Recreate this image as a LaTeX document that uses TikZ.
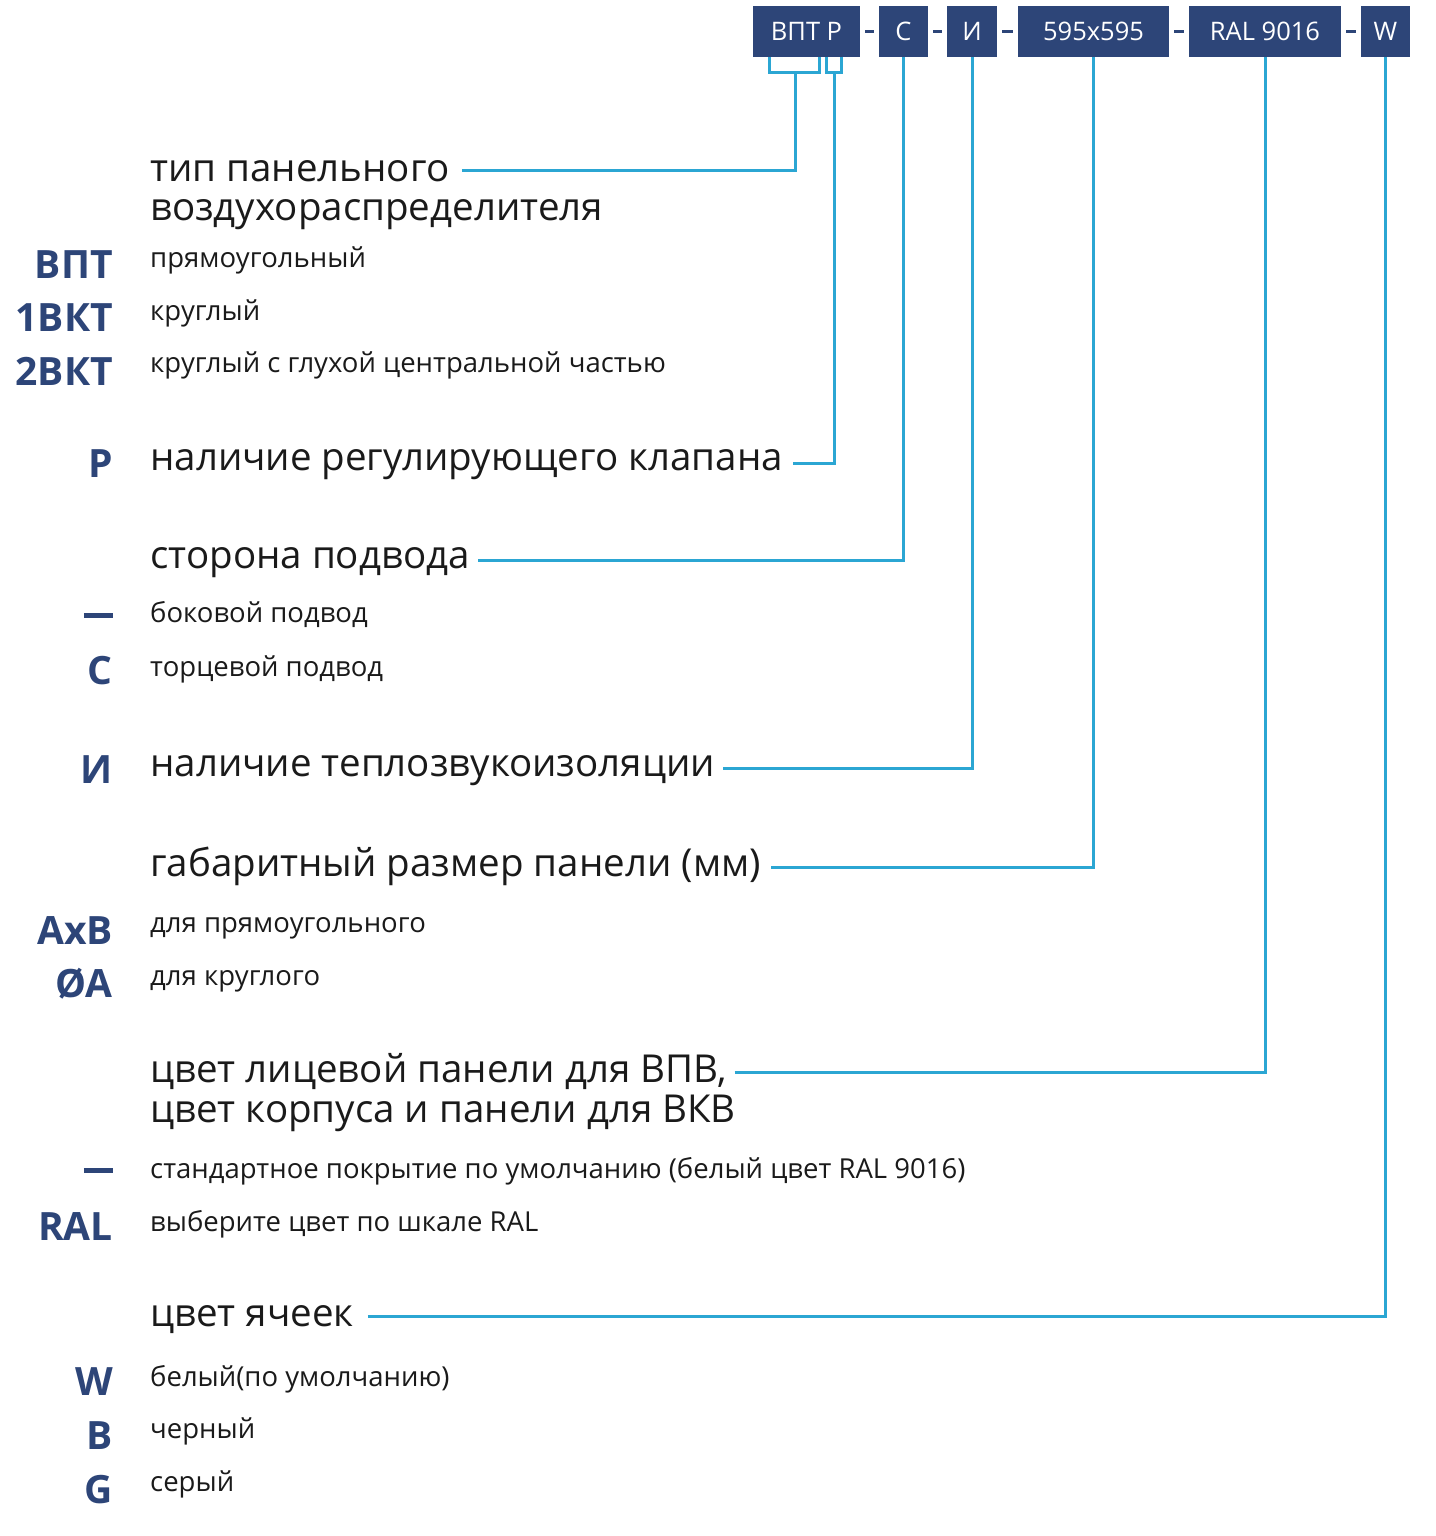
\documentclass[tikz,border=0pt]{standalone}
\usepackage{fontspec}
\setmainfont{Open Sans}
\usetikzlibrary{positioning}
\definecolor{navy}{HTML}{2D4578}
\definecolor{leadblue}{HTML}{2BA6D3}
\definecolor{ink}{HTML}{1A1A1A}
\newcommand{\codebar}{\rule[10.5pt]{29pt}{5pt}}

\begin{document}
\begin{tikzpicture}[x=1pt,y=-1pt,
  codebox/.style={fill=navy,text=white,minimum height=51pt,inner sep=0pt,
    font=\fontsize{25.5}{30}\selectfont},
  sep/.style={navy,line width=3pt},
  lead/.style={leadblue,line width=3pt},
  head/.style={anchor=base west,inner sep=0pt,text=ink,font=\fontsize{38.5}{46}\selectfont},
  item/.style={anchor=base west,inner sep=0pt,text=ink,font=\fontsize{27.5}{32}\selectfont},
  code/.style={anchor=base east,inner sep=0pt,text=navy,font=\bfseries\fontsize{39}{46}\selectfont}]
  \useasboundingbox (0,0) rectangle (1435,1536);

  % designation boxes
  \node[codebox,minimum width=107pt] (bVPT) at (806.5,31.5) {ВПТ Р};
  \node[codebox,minimum width=49pt] (bC) at (903.5,31.5) {С};
  \node[codebox,minimum width=50pt] (bI) at (972,31.5) {И};
  \node[codebox,minimum width=151pt] (bSize) at (1093.5,31.5) {595x595};
  \node[codebox,minimum width=152pt] (bRAL) at (1265,31.5) {RAL 9016};
  \node[codebox,minimum width=49pt] (bW) at (1385.5,31.5) {W};
  \foreach \a/\b in {bVPT/bC,bC/bI,bI/bSize,bSize/bRAL,bRAL/bW}
    \draw[sep] ([xshift=5pt]\a.east) -- ([xshift=-5pt]\b.west);

  % brackets under ВПТ and Р
  \draw[lead] (769,57) -- (769,73) -- (819,73) -- (819,57);
  \draw[lead] (826,57) -- (826,73) -- (841,73) -- (841,57);
  \coordinate (kVPT) at (795,73);
  \coordinate (kP) at (834,73);

  % type
  \node[head] (hTipA) at (150,181) {тип панельного};
  \node[head] (hTipB) at (150,220) {воздухораспределителя};
  \node[code] (cVPT) at (113,278) {ВПТ};
  \node[item] (dVPT) at (150,267) {прямоугольный};
  \node[code] (c1VKT) at (113,331) {1ВКТ};
  \node[item] (d1VKT) at (150,320) {круглый};
  \node[code] (c2VKT) at (113,385) {2ВКТ};
  \node[item] (d2VKT) at (150,372) {круглый с глухой центральной частью};

  % valve
  \node[code] (cP) at (113,477) {Р};
  \node[head] (hValve) at (150,470) {наличие регулирующего клапана};

  % connection side
  \node[head] (hSide) at (150,568) {сторона подвода};
  \node[code] (cDash1) at (113,628) {\codebar};
  \node[item] (dSide) at (150,622) {боковой подвод};
  \node[code] (cC) at (113,684) {С};
  \node[item] (dEnd) at (150,676) {торцевой подвод};

  % insulation
  \node[code] (cI) at (113,783) {И};
  \node[head] (hIns) at (150,776) {наличие теплозвукоизоляции};

  % size
  \node[head] (hSize) at (150,876) {габаритный размер панели (мм)};
  \node[code] (cAxB) at (113,944) {AxB};
  \node[item] (dAxB) at (150,932) {для прямоугольного};
  \node[code] (cOA) at (113,997) {ØA};
  \node[item] (dOA) at (150,985) {для круглого};

  % colour
  \node[head] (hColA) at (150,1082) {цвет лицевой панели для ВПВ,};
  \node[head] (hColB) at (150,1122) {цвет корпуса и панели для ВКВ};
  \node[code] (cDash2) at (113,1183) {\codebar};
  \node[item] (dStd) at (150,1178) {стандартное покрытие по умолчанию (белый цвет RAL 9016)};
  \node[code] (cRAL) at (113,1240) {RAL};
  \node[item] (dRAL) at (150,1231) {выберите цвет по шкале RAL};

  % cells
  \node[head] (hCell) at (150,1326) {цвет ячеек};
  \node[code] (cW) at (113,1395) {W};
  \node[item] (dW) at (150,1386) {белый(по умолчанию)};
  \node[code] (cB) at (113,1449) {B};
  \node[item] (dB) at (150,1438) {черный};
  \node[code] (cG) at (113,1503) {G};
  \node[item] (dG) at (150,1491) {серый};

  % leaders
  \draw[lead] ([xshift=12pt,yshift=11pt]hTipA.base east) -| (kVPT);
  \draw[lead] ([xshift=10pt,yshift=7pt]hValve.base east) -| (kP);
  \draw[lead] ([xshift=8pt,yshift=8pt]hSide.base east) -| (bC.south);
  \draw[lead] ([xshift=8pt,yshift=8pt]hIns.base east) -| (bI.south);
  \draw[lead] ([xshift=10pt,yshift=9pt]hSize.base east) -| (bSize.south);
  \draw[lead] ([xshift=8pt,yshift=10pt]hColA.base east) -| (bRAL.south);
  \draw[lead] ([xshift=14pt,yshift=10pt]hCell.base east) -| (bW.south);
\end{tikzpicture}
\end{document}
